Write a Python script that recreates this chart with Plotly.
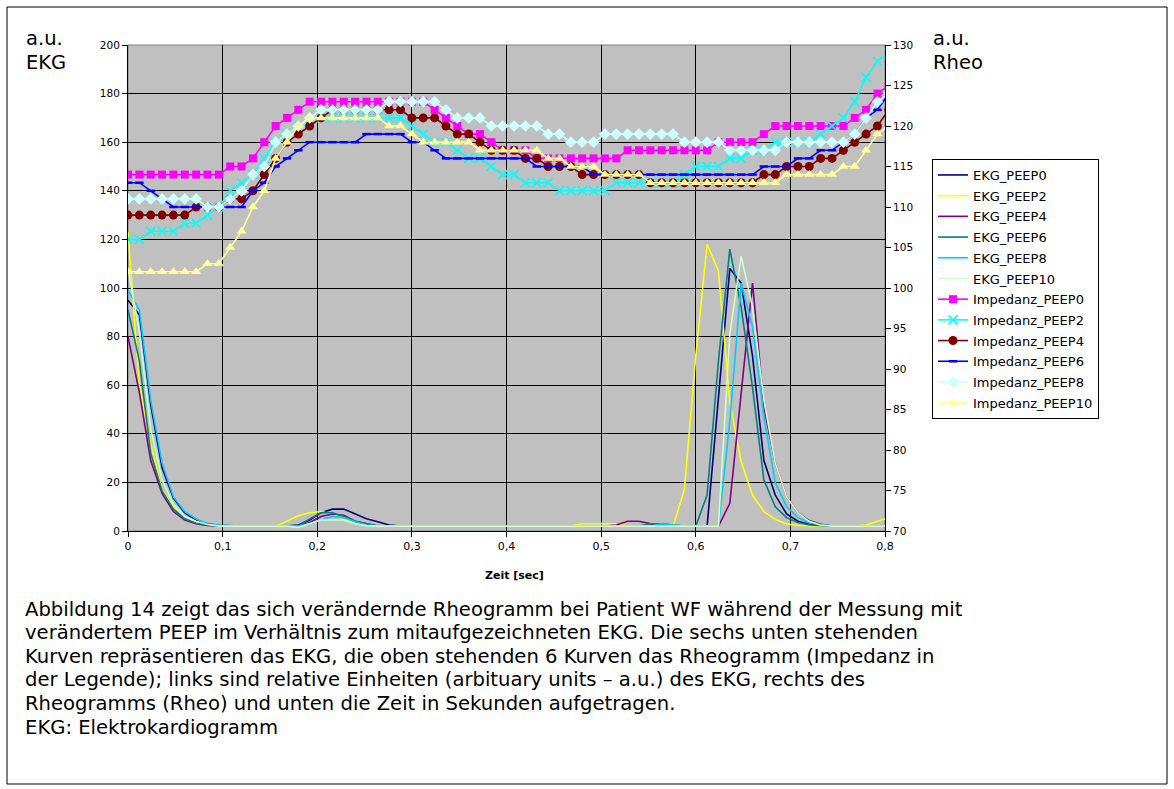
import plotly.graph_objects as go

# time axis (sec) - samples every 0.012 s
time_s = [round(i * 0.012, 3) for i in range(68)]

# EKG curves (left axis, a.u.), 68 samples each
ekg_peep0 = [95, 89, 52, 26, 13.5, 7.5, 4.5, 3, 2.3, 2, 2, 2, 2, 2, 2, 2.5, 4.5, 7.5, 9, 9,
             7, 5, 3.8, 2.5, 2, 2, 2, 2, 2, 2, 2, 2, 2, 2, 2, 2, 2, 2, 2, 2,
             2, 2, 2, 2, 2, 2, 2, 2, 2, 2, 2, 2, 55, 108, 102, 72, 29, 14.8, 7, 4,
             2.8, 2.2, 2, 2, 2, 2, 2, 2]
ekg_peep2 = [123, 60, 36, 17, 10, 6, 3.7, 2.5, 2.2, 2, 2, 2, 2, 2, 4, 6.3, 7.5, 8, 7, 5,
             3.5, 2.5, 2, 2, 2, 2, 2, 2, 2, 2, 2, 2, 2, 2, 2, 2, 2, 2, 2, 2,
             3, 3, 3, 3, 2, 2, 2, 2, 2, 17, 72, 118, 107, 53, 28.5, 14.8, 8, 4.8, 2.9, 2.3,
             2, 2, 2, 2, 2, 2.5, 4, 5.5]
ekg_peep4 = [80, 57, 29, 15.5, 8, 4.5, 3, 2.3, 2, 2, 2, 2, 2, 2, 2, 2, 3.5, 6, 7, 6.5,
             4, 3, 2, 2, 2, 2, 2, 2, 2, 2, 2, 2, 2, 2, 2, 2, 2, 2, 2, 2,
             2, 2, 2, 2.5, 4, 4, 3, 2, 2, 2, 2, 2, 2, 11.4, 58, 102, 51, 28, 14, 7.5,
             4.3, 2.8, 2, 2, 2, 2, 2, 2]
ekg_peep6 = [91, 70, 32, 16.5, 9, 5, 3.2, 2.5, 2, 2, 2, 2, 2, 2, 2, 2.2, 5, 7.5, 7.5, 6,
             4, 3, 2, 2, 2, 2, 2, 2, 2, 2, 2, 2, 2, 2, 2, 2, 2, 2, 2, 2,
             2, 2, 2, 2, 2, 2, 3, 3, 2.5, 2, 2, 14.8, 70, 116, 92, 59, 21, 10, 5.5, 3.5,
             2.5, 2.2, 2, 2, 2, 2, 2, 2]
ekg_peep8 = [99, 91, 54, 28, 14, 8, 5, 3, 2.3, 2, 2, 2, 2, 2, 2, 2, 3, 4.5, 6, 5.5,
             3.8, 2.5, 2, 2, 2, 2, 2, 2, 2, 2, 2, 2, 2, 2, 2, 2, 2, 2, 2, 2,
             2, 2, 2, 2, 2, 2, 2, 3, 2.5, 2, 2, 2, 2, 45, 102, 84, 47, 20, 10, 5.5,
             3.5, 2.5, 2, 2, 2, 2, 2, 2]
ekg_peep10 = [108, 82, 42, 21, 11, 6, 4, 2.7, 2, 2, 2, 2, 2, 2, 2, 1.5, 3, 4.5, 4.5, 4.5,
              3, 2.2, 2, 2, 2, 2, 2, 2, 2, 2, 2, 2, 2, 2, 2, 2, 2, 2, 2, 2,
              2, 2, 2, 2, 2, 2, 2, 2, 2, 2, 2, 2, 2, 81, 113, 92, 54, 28, 14, 7.5,
              4, 2.5, 2, 2, 2, 2, 2, 2]

# Impedance (Rheo) curves (right axis, a.u.)
imp_peep0 = [114]*9 + [115, 115, 116, 118, 120, 121, 122] + [123]*11 + [122, 121, 120, 119, 119, 118, 117, 117, 117] + \
            [116]*8 + [117]*8 + [118]*4 + [119] + [120]*7 + [121, 122, 124, 125]
imp_peep2 = [106, 106, 107, 107, 107, 108, 108, 109, 110, 112, 113, 114, 116, 118, 119, 120, 120] + [121]*8 + \
            [120, 119, 118, 118, 117, 116, 116, 115, 114, 114, 113, 113, 113] + [112]*5 + [113]*6 + \
            [114, 115, 115, 115, 116, 116, 117, 117, 118, 118, 118, 118, 119, 120, 121, 123, 126, 128, 129]
imp_peep4 = [109]*6 + [110, 110, 110, 111, 111, 112, 114, 116, 118, 119, 120, 121] + [122]*7 + \
            [121, 121, 121, 120, 119, 119, 118, 117, 117, 117, 116, 116, 115, 115, 115] + [114]*6 + [113]*10 + \
            [114, 114, 115, 115, 115, 116, 116, 117, 118, 119, 120, 122]
imp_peep6 = [113, 113, 112, 111] + [110]*7 + [112, 113, 115, 116, 117] + [118]*5 + [119]*4 + [118, 118, 117] + \
            [116]*8 + [115]*5 + [114]*15 + [115, 115, 115, 116, 116, 117, 117, 118, 119, 121, 122, 124]
imp_peep8 = [111]*7 + [110, 110, 111, 112, 114, 115, 118, 119, 120, 121, 122, 122] + [122]*4 + [123]*5 + \
            [122, 121, 121, 121] + [120]*5 + [119, 119, 118, 118, 118] + [119]*7 + [118]*4 + [117]*5 + [118]*6 + \
            [119, 121, 123, 124]
imp_peep10 = [102]*7 + [103, 103, 105, 107, 110, 112, 116, 118, 120, 121, 121, 121] + [121]*4 + [120, 120, 119] + \
             [118]*5 + [117]*6 + [116, 116, 115, 115, 115] + [114]*4 + [113]*12 + [114]*5 + [115, 115, 117, 119, 120]

ekg_series = [
    ("EKG_PEEP0", ekg_peep0, "#000080"),
    ("EKG_PEEP2", ekg_peep2, "#FFFF00"),
    ("EKG_PEEP4", ekg_peep4, "#800080"),
    ("EKG_PEEP6", ekg_peep6, "#008080"),
    ("EKG_PEEP8", ekg_peep8, "#00CCFF"),
    ("EKG_PEEP10", ekg_peep10, "#CCFFCC"),
]
imp_series = [
    ("Impedanz_PEEP0", imp_peep0, "#FF00FF", dict(symbol="square", size=8)),
    ("Impedanz_PEEP2", imp_peep2, "#00FFFF", dict(symbol="x-thin", size=9, line=dict(width=1.6, color="#00FFFF"))),
    ("Impedanz_PEEP4", imp_peep4, "#800000", dict(symbol="circle", size=9)),
    ("Impedanz_PEEP6", imp_peep6, "#0000FF", dict(symbol="line-ew", size=6, line=dict(width=2.5, color="#0000FF"))),
    ("Impedanz_PEEP8", imp_peep8, "#CCFFFF", dict(symbol="diamond", size=9)),
    ("Impedanz_PEEP10", imp_peep10, "#FFFF99", dict(symbol="triangle-up", size=9)),
]

W, H = 1174, 789
L, R, T, Bm = 128, 885, 45, 531


def px(x):
    return (x - L) / (R - L)


def py(y):
    return (Bm - y) / (Bm - T)


WIDE = "'DejaVu Sans', Verdana, sans-serif"
fig = go.Figure()
for name, vals, col in ekg_series:
    fig.add_trace(go.Scatter(x=time_s, y=vals, name=name, mode="lines",
                             line=dict(color=col, width=1.6), legendgroup=name))
for name, vals, col, mk in imp_series:
    mk = dict(mk)
    mk["color"] = col
    fig.add_trace(go.Scatter(x=time_s, y=vals, name=name, mode="lines+markers", yaxis="y2",
                             line=dict(color=col, width=1.6), marker=mk, legendgroup=name))

fig.update_layout(
    width=W, height=H,
    margin=dict(l=L, r=W - R, t=T, b=H - Bm, pad=0),
    paper_bgcolor="white", plot_bgcolor="#C0C0C0",
    separators=",.",
    font=dict(family=WIDE, size=10.5, color="black"),
    showlegend=True,
    legend=dict(x=px(932), y=py(159), xanchor="left", yanchor="top",
                bordercolor="black", borderwidth=1, bgcolor="white",
                font=dict(size=13, family=WIDE), tracegroupgap=0.8,
                itemwidth=30),
    xaxis=dict(range=[0, 0.8], dtick=0.1, tick0=0, showgrid=True, gridcolor="black", gridwidth=1,
               showline=True, linecolor="black", linewidth=1, ticks="outside", ticklen=5,
               tickcolor="black", zeroline=False, tickfont=dict(size=11)),
    yaxis=dict(range=[0, 200], dtick=20, showgrid=True, gridcolor="black", gridwidth=1,
               showline=True, linecolor="black", linewidth=1, ticks="outside", ticklen=5,
               tickcolor="black", zeroline=False, tickfont=dict(size=10.5)),
    yaxis2=dict(range=[70, 130], dtick=5, overlaying="y", side="right", showgrid=False,
                showline=True, linecolor="black", linewidth=1, ticks="outside", ticklen=5,
                tickcolor="black", zeroline=False, tickfont=dict(size=10.5)),
)

shapes = [
    dict(type="rect", xref="paper", yref="paper", x0=px(L), x1=px(R), y0=py(Bm), y1=py(T),
         line=dict(color="#808080", width=1), layer="below"),
    dict(type="rect", xref="paper", yref="paper", x0=px(7), x1=px(1167), y0=py(784), y1=py(7),
         line=dict(color="black", width=1)),
]
fig.update_layout(shapes=shapes)

ann = [
    dict(text="a.u.", x=px(25), y=py(38), size=19.5),
    dict(text="EKG", x=px(25), y=py(62), size=19.5),
    dict(text="a.u.", x=px(932), y=py(38), size=19.5),
    dict(text="Rheo", x=px(932), y=py(62), size=19.5),
]
caption = [
    "Abbildung 14 zeigt das sich verändernde Rheogramm bei Patient WF während der Messung mit",
    "verändertem PEEP im Verhältnis zum mitaufgezeichneten EKG. Die sechs unten stehenden",
    "Kurven repräsentieren das EKG, die oben stehenden 6 Kurven das Rheogramm (Impedanz in",
    "der Legende); links sind relative Einheiten (arbituary units – a.u.) des EKG, rechts des",
    "Rheogramms (Rheo) und unten die Zeit in Sekunden aufgetragen.",
    "EKG: Elektrokardiogramm",
]
for k, line in enumerate(caption):
    ann.append(dict(text=line, x=px(24), y=py(609 + k * 23.6), size=19.6))

annotations = []
for a in ann:
    annotations.append(dict(text=a["text"], x=a["x"], y=a["y"], xref="paper", yref="paper",
                            xanchor="left", yanchor="middle", showarrow=False, borderpad=0,
                            font=dict(size=a["size"], family=WIDE, color="black")))
annotations.append(dict(text="<b>Zeit [sec]</b>", x=px(514), y=py(575), xref="paper", yref="paper",
                        xanchor="center", yanchor="middle", showarrow=False,
                        font=dict(size=11, family=WIDE, color="black")))
fig.update_layout(annotations=annotations)

fig.write_html("out.html", config={"displayModeBar": False},
               post_script="document.body.style.margin='0';document.body.style.overflow='hidden';")
